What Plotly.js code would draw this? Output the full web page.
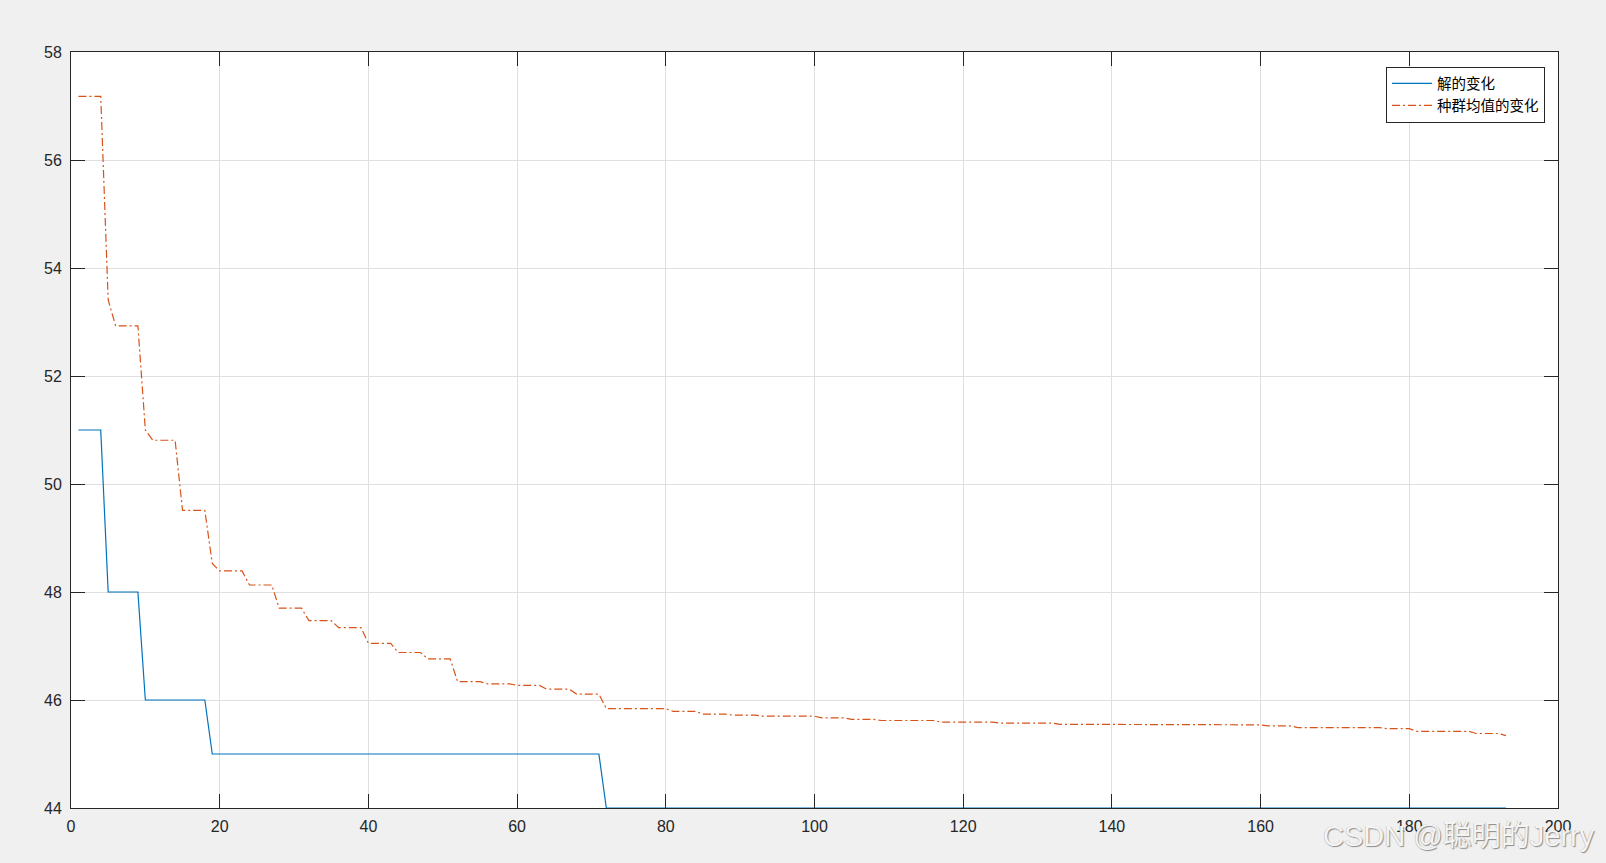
<!DOCTYPE html>
<html>
<head>
<meta charset="utf-8">
<script src="https://cdn.plot.ly/plotly-3.0.1.min.js"></script>
<style>
html,body{margin:0;padding:0;background:#F0F0F0;}
#chart{width:1606px;height:863px;}
</style>
</head>
<body>
<div id="chart"></div>
<script>
// Series names (legend)
const seriesNames = ['解的变化', '种群均值的变化'];

// Best solution per generation (generations 1..193)
const bestValues = [
  51,51,51,51,48,48,48,48,48,46,
  46,46,46,46,46,46,46,46,45,45,
  45,45,45,45,45,45,45,45,45,45,
  45,45,45,45,45,45,45,45,45,45,
  45,45,45,45,45,45,45,45,45,45,
  45,45,45,45,45,45,45,45,45,45,
  45,45,45,45,45,45,45,45,45,45,
  45,44,44,44,44,44,44,44,44,44,
  44,44,44,44,44,44,44,44,44,44,
  44,44,44,44,44,44,44,44,44,44,
  44,44,44,44,44,44,44,44,44,44,
  44,44,44,44,44,44,44,44,44,44,
  44,44,44,44,44,44,44,44,44,44,
  44,44,44,44,44,44,44,44,44,44,
  44,44,44,44,44,44,44,44,44,44,
  44,44,44,44,44,44,44,44,44,44,
  44,44,44,44,44,44,44,44,44,44,
  44,44,44,44,44,44,44,44,44,44,
  44,44,44,44,44,44,44,44,44,44,
  44,44,44
];

// Population mean per generation (generations 1..193)
const meanValues = [
  57.18,57.18,57.18,57.18,53.41,52.93,52.93,52.93,52.93,51.00,
  50.81,50.81,50.81,50.81,49.51,49.51,49.51,49.51,48.53,48.39,
  48.39,48.39,48.39,48.13,48.13,48.13,48.13,47.70,47.70,47.70,
  47.70,47.47,47.47,47.47,47.47,47.34,47.34,47.34,47.34,47.05,
  47.05,47.05,47.05,46.88,46.88,46.88,46.88,46.76,46.76,46.76,
  46.76,46.34,46.34,46.34,46.34,46.30,46.30,46.30,46.30,46.27,
  46.27,46.27,46.27,46.20,46.20,46.20,46.20,46.11,46.11,46.11,
  46.11,45.84,45.84,45.84,45.84,45.84,45.84,45.84,45.84,45.84,
  45.79,45.79,45.79,45.79,45.74,45.74,45.74,45.74,45.72,45.72,
  45.72,45.72,45.70,45.70,45.70,45.70,45.70,45.70,45.70,45.70,
  45.67,45.67,45.67,45.67,45.64,45.64,45.64,45.64,45.62,45.62,
  45.62,45.62,45.62,45.62,45.62,45.62,45.59,45.59,45.59,45.59,
  45.59,45.59,45.59,45.59,45.57,45.57,45.57,45.57,45.57,45.57,
  45.57,45.57,45.55,45.55,45.55,45.55,45.55,45.55,45.55,45.55,
  45.55,45.55,45.55,45.55,45.55,45.55,45.55,45.55,45.55,45.55,
  45.55,45.55,45.55,45.55,45.55,45.55,45.54,45.54,45.54,45.54,
  45.52,45.52,45.52,45.52,45.49,45.49,45.49,45.49,45.49,45.49,
  45.49,45.49,45.49,45.49,45.49,45.49,45.47,45.47,45.47,45.47,
  45.42,45.42,45.42,45.42,45.42,45.42,45.42,45.42,45.38,45.38,
  45.38,45.38,45.34
];

// Generation index (1..N)
const generations = bestValues.map((_, i) => i + 1);

// Axis ticks
const xTicks = [0, 20, 40, 60, 80, 100, 120, 140, 160, 180, 200];
const yTicks = [44, 46, 48, 50, 52, 54, 56, 58];

const watermarkText = 'CSDN @聪明的Jerry';

const axisColor = '#262626';
const gridColor = '#DFDFDF';
const tickFont = {family: 'Liberation Sans, Arial, sans-serif', size: 16, color: '#262626'};

const traces = [
  {
    x: generations, y: bestValues, name: seriesNames[0],
    type: 'scatter', mode: 'lines',
    line: {color: '#0072BD', width: 1.2}
  },
  {
    x: generations, y: meanValues, name: seriesNames[1],
    type: 'scatter', mode: 'lines',
    line: {color: '#D95319', width: 1.2, dash: '8px,3px,2px,3px'}
  }
];

const layout = {
  width: 1606, height: 863,
  paper_bgcolor: '#F0F0F0',
  plot_bgcolor: '#FFFFFF',
  margin: {l: 71, r: 48, t: 52, b: 55, pad: 0},
  showlegend: true,
  xaxis: {
    range: [0, 200], tickvals: xTicks, ticktext: xTicks.map(String),
    ticks: 'inside', ticklen: 14, tickwidth: 1, tickcolor: axisColor,
    showline: true, linecolor: axisColor, linewidth: 1, mirror: 'ticks',
    showgrid: true, gridcolor: gridColor, gridwidth: 1,
    zeroline: false, tickfont: tickFont, ticklabelstandoff: 4
  },
  yaxis: {
    range: [44, 58], tickvals: yTicks, ticktext: yTicks.map(String),
    ticks: 'inside', ticklen: 14, tickwidth: 1, tickcolor: axisColor,
    showline: true, linecolor: axisColor, linewidth: 1, mirror: 'ticks',
    showgrid: true, gridcolor: gridColor, gridwidth: 1,
    zeroline: false, tickfont: tickFont, ticklabelstandoff: 5
  },
  legend: {
    x: 0.9913, y: 0.9808, xanchor: 'right', yanchor: 'top',
    bgcolor: '#FFFFFF', bordercolor: axisColor, borderwidth: 1,
    font: {family: 'Noto Sans CJK SC, sans-serif', size: 14.5, color: '#000000'},
    tracegroupgap: 0, itemwidth: 40
  },
  annotations: [
    {
      text: watermarkText, xref: 'paper', yref: 'paper',
      x: 0.8405, y: -0.037, xanchor: 'left', yanchor: 'middle', showarrow: false,
      font: {family: 'Liberation Sans, Noto Sans CJK SC, sans-serif', size: 29, color: '#F4F4F4',
             shadow: '1px 1px 1px #8c8c8c, -0.5px -0.5px 0 #c0c0c0'}
    }
  ]
};

Plotly.newPlot('chart', traces, layout, {displayModeBar: false, staticPlot: true});
</script>
</body>
</html>
